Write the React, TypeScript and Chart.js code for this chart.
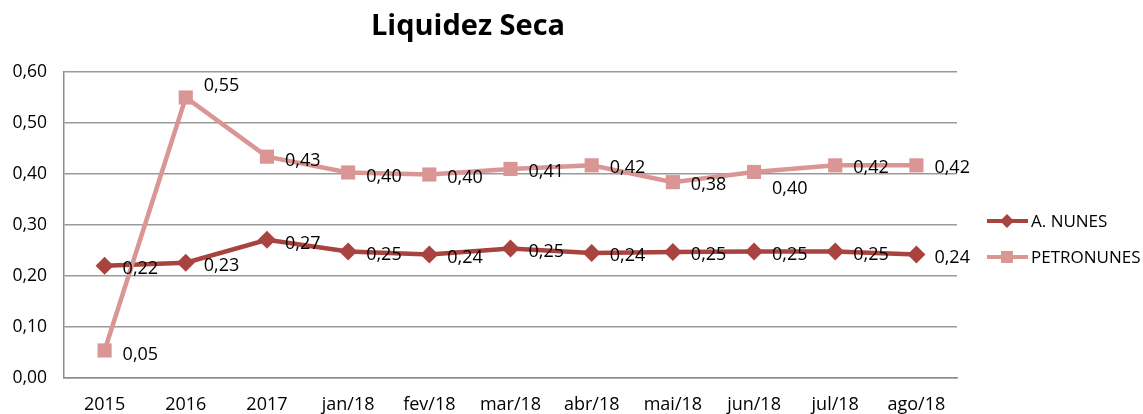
import React, { useEffect, useRef } from "react";
import { Chart, registerables } from "chart.js";

Chart.register(...registerables);

const categories = ["2015", "2016", "2017", "jan/18", "fev/18", "mar/18", "abr/18", "mai/18", "jun/18", "jul/18", "ago/18"];
const aNunes = [0.22, 0.226, 0.271, 0.248, 0.242, 0.254, 0.245, 0.247, 0.248, 0.248, 0.242];
const petronunes = [0.054, 0.55, 0.434, 0.403, 0.399, 0.41, 0.417, 0.384, 0.404, 0.417, 0.417];
const yTicks = [0, 0.1, 0.2, 0.3, 0.4, 0.5, 0.6];
const titleText = "Liquidez Seca";
const seriesNames = ["A. NUNES", "PETRONUNES"];

// label vertical nudges (style only)
const aNunesLabelDy = [3, 3, 4, 3, 3, 3, 3, 3, 3, 3, 3];
const petroLabelDy = [4, -12, 4, 4, 3, 3, 3, 3, 17, 3, 3];

const RED = "#A9433F";
const PINK = "#D99694";
const FONT = "'Open Sans', sans-serif";

const fmt = (v: number) => v.toFixed(2).replace(".", ",");

export default function App() {
  const ref = useRef<HTMLCanvasElement | null>(null);
  useEffect(() => {
    if (!ref.current) return;
    const labelsPlugin = {
      id: "valueLabels",
      afterDatasetsDraw(chart: any) {
        const ctx = chart.ctx;
        ctx.save();
        ctx.font = `18px ${FONT}`;
        ctx.fillStyle = "#000";
        ctx.textAlign = "left";
        ctx.textBaseline = "middle";
        chart.data.datasets.forEach((ds: any, di: number) => {
          const meta = chart.getDatasetMeta(di);
          const dys = di === 0 ? aNunesLabelDy : petroLabelDy;
          meta.data.forEach((pt: any, i: number) => {
            ctx.fillText(fmt(ds.data[i]), pt.x + 18, pt.y + dys[i]);
          });
        });
        ctx.restore();
      },
    };
    const titlePlugin = {
      id: "customTitle",
      afterDraw(chart: any) {
        const ctx = chart.ctx;
        ctx.save();
        ctx.font = `bold 29px ${FONT}`;
        ctx.fillStyle = "#000";
        ctx.textAlign = "center";
        ctx.textBaseline = "middle";
        ctx.fillText(titleText, 468, 27);
        ctx.restore();
      },
    };
    const legendPlugin = {
      id: "customLegend",
      afterDraw(chart: any) {
        const ctx = chart.ctx;
        const items = [
          { name: seriesNames[0], color: RED, style: "diamond", y: 221 },
          { name: seriesNames[1], color: PINK, style: "square", y: 257 },
        ];
        ctx.save();
        items.forEach((it) => {
          ctx.strokeStyle = it.color;
          ctx.fillStyle = it.color;
          ctx.lineWidth = 4;
          ctx.beginPath();
          ctx.moveTo(987, it.y);
          ctx.lineTo(1028, it.y);
          ctx.stroke();
          const cx = 1007;
          if (it.style === "diamond") {
            ctx.beginPath();
            ctx.moveTo(cx, it.y - 7);
            ctx.lineTo(cx + 7, it.y);
            ctx.lineTo(cx, it.y + 7);
            ctx.lineTo(cx - 7, it.y);
            ctx.closePath();
            ctx.fill();
          } else {
            ctx.fillRect(cx - 6, it.y - 6, 12, 12);
          }
          ctx.fillStyle = "#000";
          ctx.font = `17px ${FONT}`;
          ctx.textAlign = "left";
          ctx.textBaseline = "middle";
          ctx.fillText(it.name, 1031, it.y + 1);
        });
        ctx.restore();
      },
    };
    const chart = new Chart(ref.current, {
      type: "line",
      data: {
        labels: categories,
        datasets: [
          {
            label: seriesNames[0],
            data: aNunes,
            borderColor: RED,
            backgroundColor: RED,
            borderWidth: 4.5,
            pointStyle: "rectRot",
            pointRadius: 9,
            pointBorderWidth: 0,
            tension: 0,
            order: 1,
          },
          {
            label: seriesNames[1],
            data: petronunes,
            borderColor: PINK,
            backgroundColor: PINK,
            borderWidth: 4.5,
            pointStyle: "rect",
            pointRadius: 10,
            pointBorderWidth: 0,
            tension: 0,
            order: 0,
          },
        ],
      },
      options: {
        animation: false,
        responsive: false,
        maintainAspectRatio: false,
        layout: { padding: { left: 0, top: 72, right: 186, bottom: 0 } },
        plugins: {
          legend: { display: false },
          title: { display: false },
          tooltip: { enabled: false },
        },
        scales: {
          x: {
            offset: true,
            grid: { display: false, drawTicks: false },
            border: { display: true, color: "#8c8c8c", width: 1.5 },
            ticks: { color: "#000", font: { family: FONT, size: 18 }, padding: 16, maxRotation: 0, autoSkip: false },
            afterFit: (s: any) => { s.height = 36; },
          },
          y: {
            min: 0,
            max: 0.6,
            afterBuildTicks: (s: any) => { s.ticks = yTicks.map((v) => ({ value: v })); },
            grid: { color: "#9a9a9a", lineWidth: 1.5, drawTicks: false },
            border: { display: true, color: "#8c8c8c", width: 1.5 },
            ticks: {
              color: "#000",
              font: { family: FONT, size: 17.5 },
              padding: 17,
              callback: (v: any) => fmt(Number(v)),
            },
            afterFit: (s: any) => { s.width = 64; },
          },
        },
      },
      plugins: [labelsPlugin, titlePlugin, legendPlugin],
    });
    return () => chart.destroy();
  }, []);
  return (
    <div style={{ position: "fixed", left: 0, top: 0, width: 1143, height: 414, background: "#fff" }}>
      <canvas ref={ref} width={1143} height={414} style={{ width: 1143, height: 414 }} />
    </div>
  );
}
